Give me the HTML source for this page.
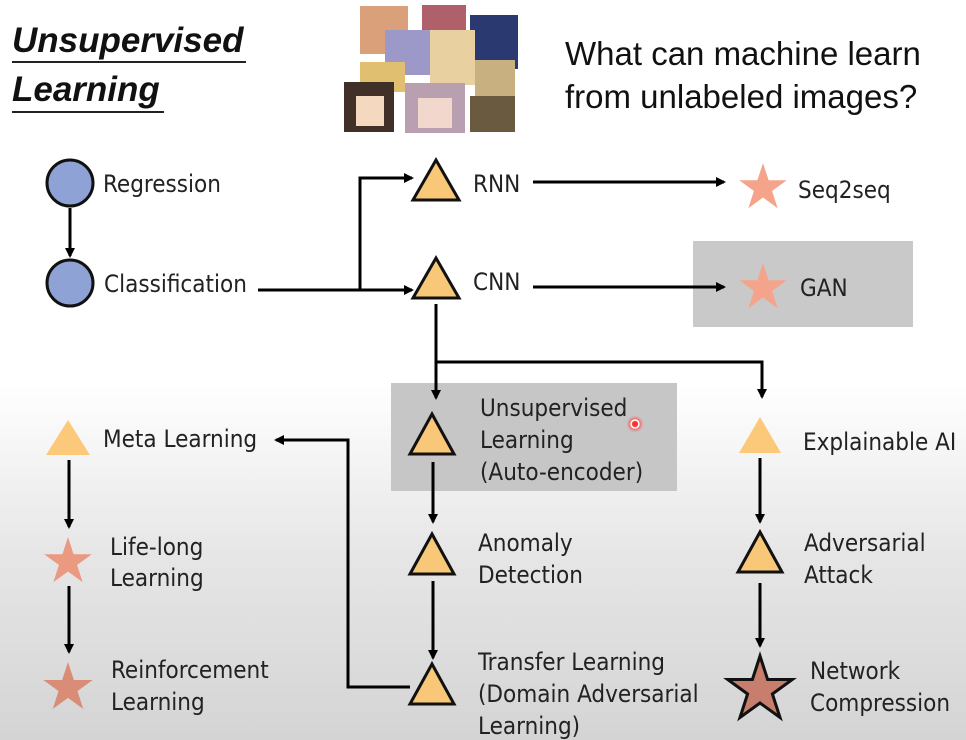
<!DOCTYPE html>
<html><head><meta charset="utf-8"><style>
html,body{margin:0;padding:0;}
body{width:966px;height:740px;overflow:hidden;background:#fff;}
svg{display:block;font-family:"Liberation Sans",sans-serif;}
.t{font-family:"DejaVu Sans Condensed","Liberation Sans",sans-serif;font-size:24px;fill:#222;}
</style></head><body>
<svg width="966" height="740" viewBox="0 0 966 740">
<defs>
<linearGradient id="bg" x1="0" y1="0" x2="0" y2="1">
<stop offset="0" stop-color="#ffffff"/>
<stop offset="0.52" stop-color="#ffffff"/>
<stop offset="0.75" stop-color="#e6e6e6"/>
<stop offset="1" stop-color="#d4d4d4"/>
</linearGradient>
<marker id="a" markerWidth="10" markerHeight="10" refX="8" refY="5" orient="auto" markerUnits="userSpaceOnUse">
<path d="M0,0 L10,5 L0,10 Z" fill="#000"/>
</marker>
<polygon id="st" points="0,-1 0.2245,-0.309 0.951,-0.309 0.3633,0.118 0.5878,0.809 0,0.382 -0.5878,0.809 -0.3633,0.118 -0.951,-0.309 -0.2245,-0.309"/>
<radialGradient id="red"><stop offset="0" stop-color="#ff2020"/><stop offset="0.5" stop-color="#ff3030" stop-opacity="0.7"/><stop offset="1" stop-color="#ff8080" stop-opacity="0"/></radialGradient>
</defs>
<rect width="966" height="740" fill="url(#bg)"/>

<!-- title -->
<text x="12" y="52" font-size="35" font-weight="bold" font-style="italic" fill="#111">Unsupervised</text>
<rect x="12" y="61" width="234" height="2" fill="#222"/>
<text x="12" y="101" font-size="35" font-weight="bold" font-style="italic" fill="#111">Learning</text>
<rect x="12" y="111" width="152" height="2" fill="#222"/>

<!-- images -->
<g>
<rect x="360" y="6" width="48" height="48" fill="#d9a07a"/>
<rect x="422" y="5" width="44" height="40" fill="#b0606a"/>
<rect x="470" y="15" width="48" height="54" fill="#2a3a70"/>
<rect x="385" y="30" width="50" height="45" fill="#9c98c8"/>
<rect x="430" y="30" width="45" height="55" fill="#e8d0a0"/>
<rect x="360" y="62" width="45" height="30" fill="#e0c070"/>
<rect x="475" y="60" width="40" height="40" fill="#c8b080"/>
<rect x="344" y="82" width="50" height="50" fill="#403028"/>
<rect x="356" y="96" width="28" height="30" fill="#f5d8c0"/>
<rect x="405" y="83" width="60" height="50" fill="#b8a0b0"/>
<rect x="418" y="98" width="34" height="30" fill="#f2d8cc"/>
<rect x="470" y="96" width="45" height="36" fill="#6a5a40"/>
</g>
<text x="565" y="65" font-size="33" fill="#111">What can machine learn</text>
<text x="565" y="108" font-size="33" fill="#111">from unlabeled images?</text>

<!-- gray boxes -->
<rect x="693" y="241" width="220" height="86" fill="#c9c9c9"/>
<rect x="391" y="383" width="286" height="108" fill="#c6c6c6"/>

<!-- connectors -->
<g stroke="#000" stroke-width="3" fill="none">
<line x1="70" y1="208" x2="70" y2="256" marker-end="url(#a)"/>
<line x1="258" y1="290" x2="412" y2="290" marker-end="url(#a)"/>
<polyline points="360,290 360,178 412,178" marker-end="url(#a)"/>
<line x1="533" y1="182" x2="724" y2="182" marker-end="url(#a)"/>
<line x1="533" y1="287" x2="724" y2="287" marker-end="url(#a)"/>
<line x1="436" y1="304" x2="436" y2="398" marker-end="url(#a)"/>
<polyline points="436,362 762,362 762,397" marker-end="url(#a)"/>
<line x1="433" y1="462" x2="433" y2="522" marker-end="url(#a)"/>
<line x1="433" y1="581" x2="433" y2="658" marker-end="url(#a)"/>
<line x1="760" y1="458" x2="760" y2="522" marker-end="url(#a)"/>
<line x1="760" y1="583" x2="760" y2="646" marker-end="url(#a)"/>
<polyline points="410,687 348,687 348,440 276,440" marker-end="url(#a)"/>
<line x1="69" y1="460" x2="69" y2="527" marker-end="url(#a)"/>
<line x1="69" y1="586" x2="69" y2="652" marker-end="url(#a)"/>
</g>

<!-- circles -->
<circle cx="70" cy="183" r="23" fill="#8ea2d6" stroke="#111" stroke-width="3"/>
<circle cx="70" cy="283" r="23" fill="#8ea2d6" stroke="#111" stroke-width="3"/>
<text class="t" x="103" y="192">Regression</text>
<text class="t" x="104" y="292">Classification</text>

<!-- triangles -->
<g fill="#f8c878" stroke="#111" stroke-width="3" stroke-linejoin="miter">
<polygon points="436,160 459,200 413,200"/>
<polygon points="436,258 459,298 413,298"/>
<polygon points="432,414 454,454 410,454"/>
<polygon points="432,534 454,574 410,574"/>
<polygon points="432,664 454,704 410,704"/>
<polygon points="760,532 782,572 738,572"/>
</g>
<polygon points="760,417 781,453 739,453" fill="#fcc97a"/>
<polygon points="68,420 90,455 46,455" fill="#fcc97a"/>

<!-- stars -->
<use href="#st" transform="translate(763,188) scale(25)" fill="#f5a48c"/>
<use href="#st" transform="translate(763,288) scale(25)" fill="#f5a48c"/>
<use href="#st" transform="translate(68,562) scale(25)" fill="#eb9a82"/>
<use href="#st" transform="translate(68,688) scale(26)" fill="#d98c76"/>
<polygon points="760,656 767.6,679.5 792.3,679.5 772.4,694 780,717.5 760,703 740,717.5 747.6,694 727.7,679.5 752.4,679.5" fill="#c87e6c" stroke="#111" stroke-width="3" stroke-linejoin="miter"/>

<circle cx="635" cy="424" r="9" fill="url(#red)"/>
<circle cx="635" cy="424" r="4" fill="none" stroke="#fff" stroke-width="1.5"/>

<!-- labels -->
<text class="t" x="473" y="192">RNN</text>
<text class="t" x="798" y="198">Seq2seq</text>
<text class="t" x="473" y="290">CNN</text>
<text class="t" x="800" y="296">GAN</text>
<text class="t" x="480" y="416">Unsupervised</text>
<text class="t" x="480" y="448">Learning</text>
<text class="t" x="480" y="480">(Auto-encoder)</text>
<text class="t" x="803" y="450">Explainable AI</text>
<text class="t" x="478" y="551">Anomaly</text>
<text class="t" x="478" y="583">Detection</text>
<text class="t" x="478" y="670">Transfer Learning</text>
<text class="t" x="478" y="702">(Domain Adversarial</text>
<text class="t" x="478" y="734">Learning)</text>
<text class="t" x="804" y="551">Adversarial</text>
<text class="t" x="804" y="583">Attack</text>
<text class="t" x="810" y="679">Network</text>
<text class="t" x="810" y="711">Compression</text>
<text class="t" x="103" y="447">Meta Learning</text>
<text class="t" x="110" y="555">Life-long</text>
<text class="t" x="110" y="586">Learning</text>
<text class="t" x="111" y="678">Reinforcement</text>
<text class="t" x="111" y="710">Learning</text>
</svg>
</body></html>
